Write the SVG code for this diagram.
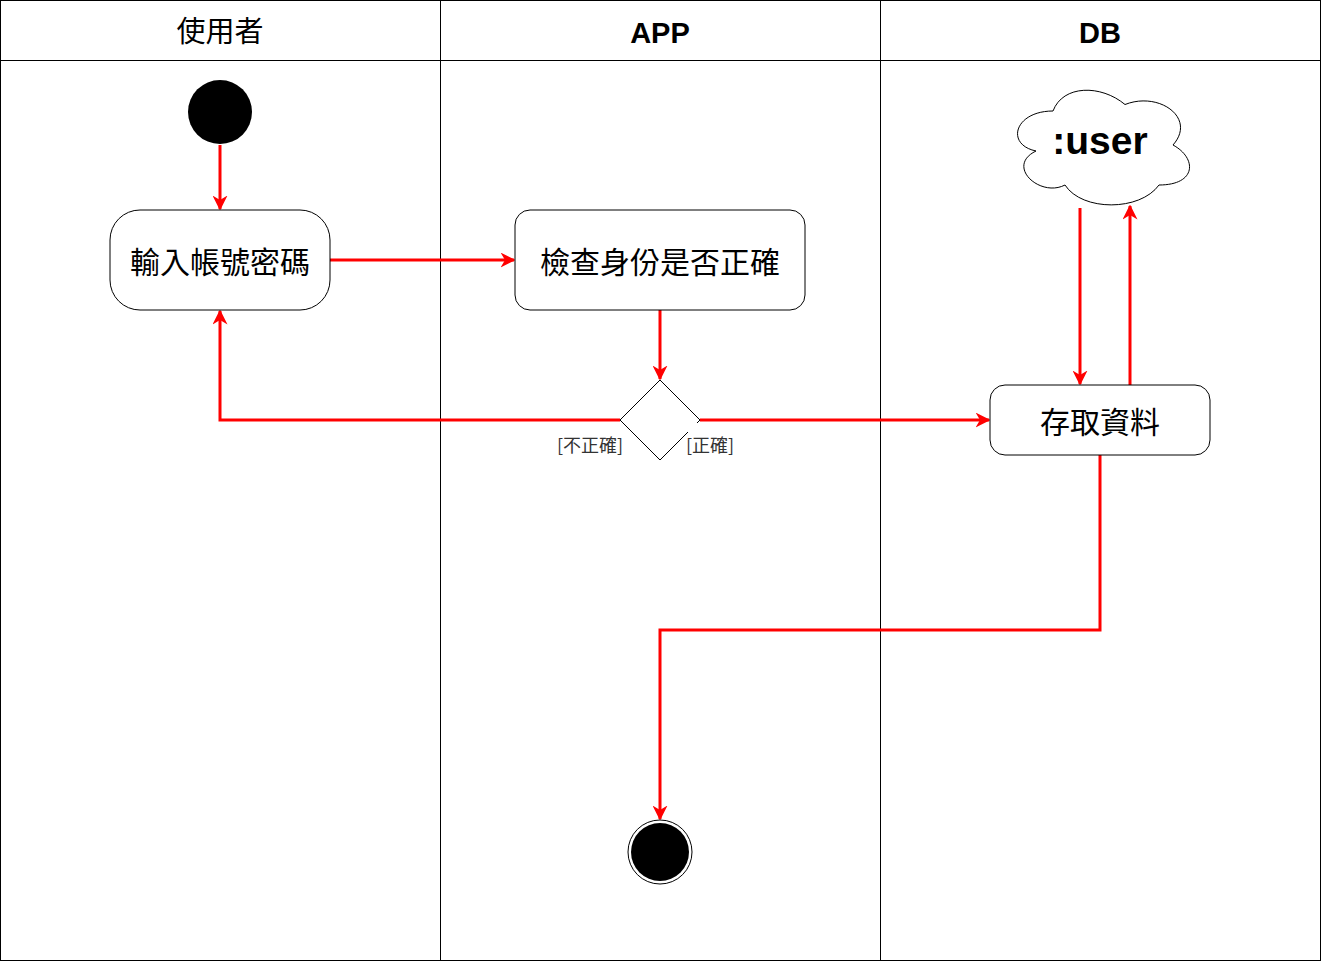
<svg xmlns="http://www.w3.org/2000/svg" width="1321" height="961" viewBox="0 0 1321 961">
<style>
.lane{fill:none;stroke:#000;stroke-width:1}
.hdr{font-family:"Liberation Sans","Noto Sans CJK TC",sans-serif;font-size:29px;font-weight:bold;text-anchor:middle;fill:#000}
.hdrc{font-family:"Noto Sans CJK TC","Liberation Sans",sans-serif;font-size:29px;text-anchor:middle;fill:#000}
.node{fill:#fff;stroke:#000;stroke-width:1}
.txt{font-family:"Noto Sans CJK TC","Liberation Sans",sans-serif;font-size:30px;text-anchor:middle;dominant-baseline:central;fill:#000}
.lbl{font-family:"Noto Sans CJK TC","Liberation Sans",sans-serif;font-size:18px;fill:#333}
.edge{fill:none;stroke:#ff0000;stroke-width:3;marker-end:url(#arr)}
</style>
<defs>
<marker id="arr" viewBox="0 0 10 10" refX="9" refY="5" markerWidth="5" markerHeight="5" markerUnits="strokeWidth" orient="auto">
<path d="M0,0 L10,5 L0,10 L3,5 Z" fill="#ff0000"/>
</marker>
</defs>
<rect width="1321" height="961" fill="#fff"/>
<g id="lanes">
<rect class="lane" x="0.5" y="0.5" width="1320" height="960"/>
<line class="lane" x1="0" y1="60.5" x2="1321" y2="60.5"/>
<line class="lane" x1="440.5" y1="0" x2="440.5" y2="961"/>
<line class="lane" x1="880.5" y1="0" x2="880.5" y2="961"/>
<text class="hdrc" x="220" y="42">使用者</text>
<text class="hdr" x="660" y="43">APP</text>
<text class="hdr" x="1100" y="43">DB</text>
</g>
<g id="edges">
<path class="edge" d="M220,145 L220,209"/>
<path class="edge" d="M330,260 L514,260"/>
<path class="edge" d="M660,310 L660,379"/>
<path class="edge" d="M620,420 L220,420 L220,311"/>
<path class="edge" d="M700,420 L989,420"/>
<path class="edge" d="M1080,208 L1080,384"/>
<path class="edge" d="M1130,385 L1130,206"/>
<path class="edge" d="M1100,455 L1100,630 L660,630 L660,819"/>
</g>
<g id="start">
<circle cx="220" cy="112" r="32" fill="#000"/>
</g>
<g id="input">
<rect class="node" x="110" y="210" width="220" height="100" rx="30" ry="30"/>
<text class="txt" x="220" y="260">輸入帳號密碼</text>
</g>
<g id="check">
<rect class="node" x="515" y="210" width="290" height="100" rx="15" ry="15"/>
<text class="txt" x="660" y="260">檢查身份是否正確</text>
</g>
<g id="decision">
<path class="node" d="M660,380 L700,420 L660,460 L620,420 Z"/>
<text class="lbl" x="557" y="452">[不正確]</text>
<rect x="688" y="423" width="50" height="38" fill="#fff"/>
<text class="lbl" x="686" y="452">[正確]</text>
</g>
<g id="access">
<rect class="node" x="990" y="385" width="220" height="70" rx="15" ry="15"/>
<text class="txt" x="1100" y="420">存取資料</text>
</g>
<g id="user">
<path class="node" d="M1053,111 C1014.6,111 1005,144.5 1036,151 C1005,166 1040,198 1065,185 C1082,211.5 1140,211.5 1159,185 C1197,185 1197,158 1173,145 C1197,118 1159,91 1125,104.5 C1101,84.5 1063,84.5 1053,111 Z"/>
<text x="1100" y="140" font-family="Liberation Sans, sans-serif" font-size="39" font-weight="bold" text-anchor="middle" dominant-baseline="central">:user</text>
</g>
<g id="end">
<circle cx="660" cy="852" r="32" fill="#fff" stroke="#000" stroke-width="1"/>
<circle cx="660" cy="852" r="29" fill="#000"/>
</g>
</svg>
